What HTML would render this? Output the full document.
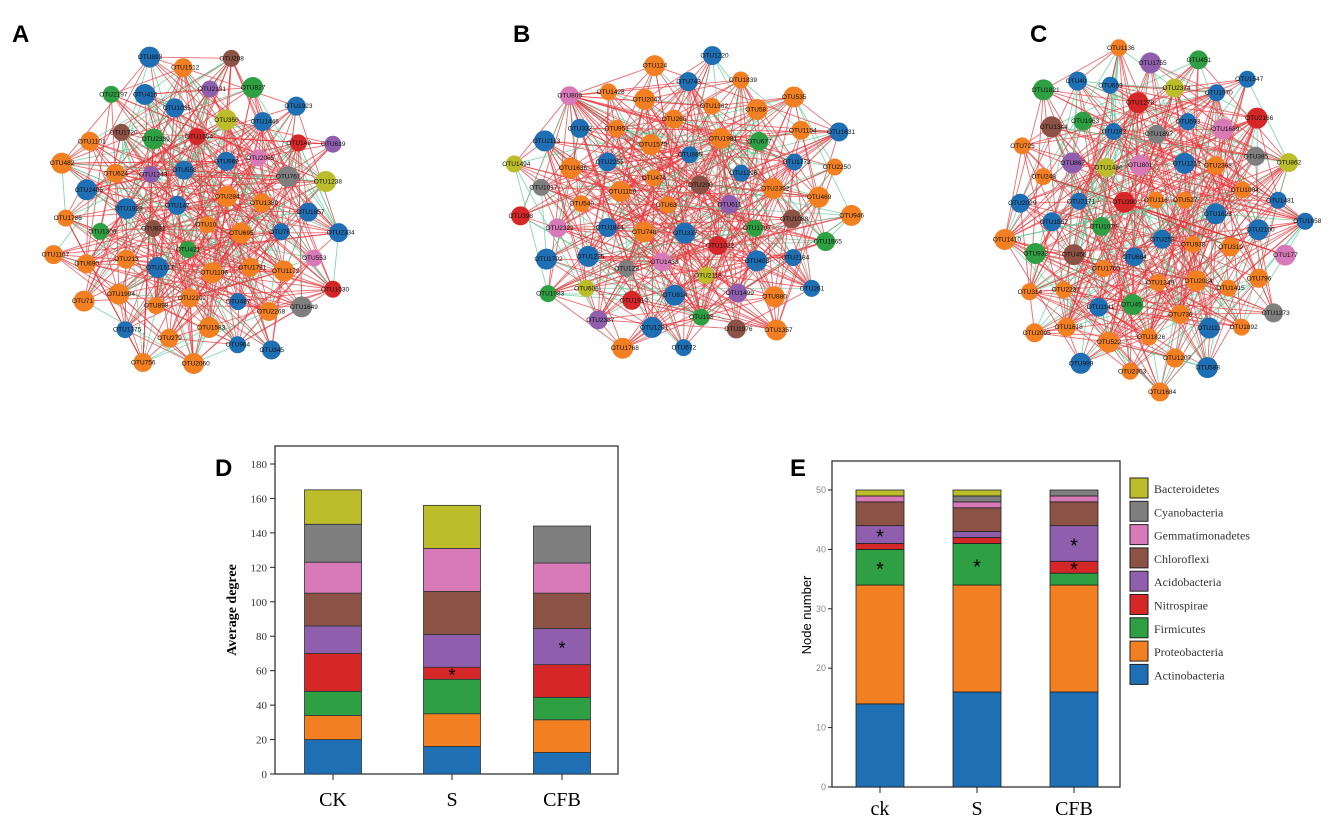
<!DOCTYPE html>
<html><head><meta charset="utf-8"><style>
body{margin:0;background:#fff;width:1342px;height:825px;overflow:hidden;font-family:"Liberation Sans",sans-serif}
svg{position:absolute;left:0;top:0}
</style></head><body>
<svg id="s" width="1342" height="825">
<text x="12" y="42" font-size="24" font-weight="bold">A</text>
<text x="513" y="42" font-size="24" font-weight="bold">B</text>
<text x="1030" y="42" font-size="24" font-weight="bold">C</text>
<text x="215" y="476" font-size="24" font-weight="bold">D</text>
<text x="790" y="476" font-size="24" font-weight="bold">E</text>
</svg>
<script>
const NS='http://www.w3.org/2000/svg';
const svg=document.getElementById('s');
function mk(t,a,p){const e=document.createElementNS(NS,t);for(const k in a)e.setAttribute(k,a[k]);(p||svg).appendChild(e);return e;}
const phyla=['Actinobacteria','Proteobacteria','Firmicutes','Nitrospirae','Acidobacteria','Chloroflexi','Gemmatimonadetes','Cyanobacteria','Bacteroidetes'];
const colors=['#1f6fb4','#f27f22','#2ea043','#d62728','#8f5fae','#8c5246','#d87ab8','#7f7f7f','#bcbd2b'];
// Panel D data (average degree per phylum)
const dGroups=['CK','S','CFB'];
const dCK=[20,14,14,22,16,19,18,22,20];
const dS=[16,19,20,7,19,25,25,0,25];
const dCFB=[12.5,19,13,19,21,20.5,17.5,21.5,0];
const dTicks=[0,20,40,60,80,100,120,140,160,180];
// Panel E data (node number)
const eGroups=['ck','S','CFB'];
const eCK=[14,20,6,1,3,4,1,0,1];
const eS=[16,18,7,1,1,4,1,1,1];
const eCFB=[16,18,2,2,6,4,1,1,0];
const eTicks=[0,10,20,30,40,50];

// ---------- networks ----------
const nets=[{cx:200,cy:212,rx:152,ry:168,n:62,seed:1},{cx:683,cy:203,rx:178,ry:155,n:66,seed:3},{cx:1152,cy:215,rx:155,ry:182,n:68,seed:5}];
const colSeq=[1,0,1,2,0,1,5,0,1,4,1,0,3,1,0,6,1,2,0,1,8,0,1,7];
nets.forEach((N,ni)=>{
  const g=mk('g',{});
  
  
  const pts=[];
  for(let i=0;i<N.n;i++){
    const r=Math.sqrt((i+0.5)/N.n);const a=i*2.39996+N.seed;
    pts.push([N.cx+N.rx*r*Math.cos(a),N.cy+N.ry*r*Math.sin(a)]);
  }
  const eg=mk('g',{},g);
  for(let i=0;i<N.n;i++){
    for(let k=1;k<=7;k++){
      const j=(i*(7+k*3)+k*11+N.seed)%N.n; if(j===i)continue;
      const green=((i+j*k+ni)%4)===0;
      mk('line',{x1:pts[i][0],y1:pts[i][1],x2:pts[j][0],y2:pts[j][1],stroke:green?'#5fc99a':'#e8383d','stroke-width':0.9,'stroke-opacity':0.75},eg);
    }
  }
  pts.forEach((p,i)=>{
    const c=mk('circle',{cx:p[0],cy:p[1],r:8.5+(i%3),fill:colors[colSeq[(i+ni*5)%colSeq.length]]},g);
    
    
    const t=mk('text',{x:p[0]-12,y:p[1]+2,'font-size':6.5,fill:'#111'},g);
    t.textContent='OTU'+((i*137+ni*53)%2400+10);
  });
});

// ---------- Panel D ----------
(function(){
  const L=275,R=618,T=446,B=774;
  const yv=v=>B-v*(B-464)/180;
  const g=mk('g',{});
  
  
  mk('rect',{x:L,y:T,width:R-L,height:B-T,fill:'none',stroke:'#222','stroke-width':1.2},g);
  dTicks.forEach(t=>{
    mk('line',{x1:L-5,x2:L,y1:yv(t),y2:yv(t),stroke:'#222'},g);
    const tx=mk('text',{x:L-8,y:yv(t)+4,'font-size':11,'text-anchor':'end',fill:'#333','font-family':'Liberation Serif'},g);
    tx.textContent=t;
  });
  const yt=mk('text',{transform:'translate(236,610) rotate(-90)','font-size':14,'font-weight':'bold','text-anchor':'middle','font-family':'Liberation Serif'},g);
  
  
  yt.textContent='Average degree';
  const xs=[333,452,562],w=57;
  [dCK,dS,dCFB].forEach((vals,gi)=>{
    let acc=0;
    vals.forEach((v,k)=>{
      if(v<=0)return;
      const r=mk('rect',{x:xs[gi]-w/2,y:yv(acc+v),width:w,height:yv(acc)-yv(acc+v),fill:colors[k],stroke:'#333','stroke-width':0.8},g);
      
      
      acc+=v;
    });
    mk('line',{x1:xs[gi],x2:xs[gi],y1:B,y2:B+6,stroke:'#222'},g);
    const lt=mk('text',{x:xs[gi],y:806,'font-size':20,'text-anchor':'middle','font-family':'Liberation Serif'},g);
    lt.textContent=dGroups[gi];
  });
  [[452,dS,3],[562,dCFB,4]].forEach(([x,vals,k])=>{
    const base=vals.slice(0,k).reduce((a,b)=>a+b,0);
    const s=mk('text',{x:x,y:yv(base+vals[k]/2)+8,'font-size':18,'text-anchor':'middle'},g);
    s.textContent='*';
  });
})();

// ---------- Panel E ----------
(function(){
  const L=832,R=1120,T=461,B=787;
  const yv=v=>B-v*(B-490)/50;
  const g=mk('g',{});
  
  
  mk('rect',{x:L,y:T,width:R-L,height:B-T,fill:'none',stroke:'#222','stroke-width':1.2},g);
  eTicks.forEach(t=>{
    mk('line',{x1:L-4,x2:L,y1:yv(t),y2:yv(t),stroke:'#222'},g);
    const tx=mk('text',{x:L-6,y:yv(t)+3,'font-size':9,'text-anchor':'end',fill:'#888'},g);
    tx.textContent=t;
  });
  const yt=mk('text',{transform:'translate(811,615) rotate(-90)','font-size':13,'text-anchor':'middle'},g);
  
  
  yt.textContent='Node number';
  const xs=[880,977,1074],w=48;
  [eCK,eS,eCFB].forEach((vals,gi)=>{
    let acc=0;
    vals.forEach((v,k)=>{
      if(v<=0)return;
      const r=mk('rect',{x:xs[gi]-w/2,y:yv(acc+v),width:w,height:yv(acc)-yv(acc+v),fill:colors[k],stroke:'#222','stroke-width':0.8},g);
      
      
      acc+=v;
    });
    mk('line',{x1:xs[gi],x2:xs[gi],y1:B,y2:B+6,stroke:'#222'},g);
    const lt=mk('text',{x:xs[gi],y:815,'font-size':20,'text-anchor':'middle','font-family':'Liberation Serif'},g);
    lt.textContent=eGroups[gi];
  });
  [[880,eCK,2],[880,eCK,4],[977,eS,2],[1074,eCFB,3],[1074,eCFB,4]].forEach(([x,vals,k])=>{
    const base=vals.slice(0,k).reduce((a,b)=>a+b,0);
    const s=mk('text',{x:x,y:yv(base+vals[k]/2)+9,'font-size':20,'text-anchor':'middle'},g);
    s.textContent='*';
  });
  for(let i=0;i<9;i++){
    const k=8-i;const yy=478+i*23.3;
    const lg=mk('g',{},g);
    
    
    mk('rect',{x:1130,y:yy,width:18,height:20,fill:colors[k],stroke:'#222','stroke-width':1},lg);
    const t=mk('text',{x:1154,y:yy+15,'font-size':12,'font-family':'Liberation Serif',fill:'#333'},lg);
    t.textContent=phyla[k];
  }
})();
</script>
</body></html>
